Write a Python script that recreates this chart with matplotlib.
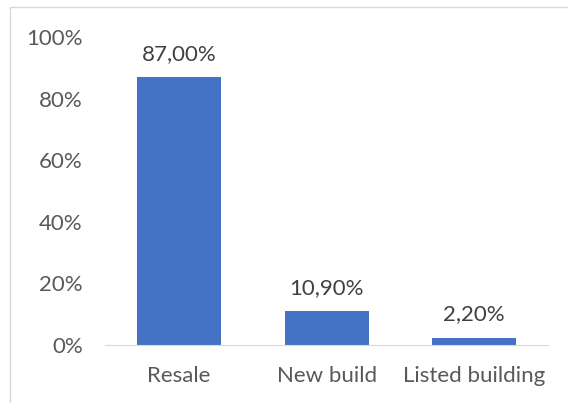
import matplotlib.pyplot as plt
from matplotlib.patches import Rectangle

categories = ['Resale', 'New build', 'Listed building']
values = [87.0, 10.9, 2.2]
labels = ['87,00%', '10,90%', '2,20%']
yticks = [0, 20, 40, 60, 80, 100]

plt.rcParams['font.family'] = ['Lato', 'DejaVu Sans']
text_color = '#595959'

fig = plt.figure(figsize=(5.68, 4.03), dpi=100)
ax = fig.add_axes([0.185, 0.144, 0.78, 0.763])

# chart area border (cropped at right/bottom)
fig.patches.append(Rectangle((10 / 568, -0.1), 1.2, 1 - 7 / 403 + 0.1,
                             transform=fig.transFigure, fill=False,
                             edgecolor='#d9d9d9', linewidth=1))

x = range(len(categories))
ax.bar(x, values, width=0.57, color='#4472C4')
for i, v in enumerate(values):
    ax.text(i, v + 4.5, labels[i], ha='center', va='bottom',
            fontsize=16, color='#404040')

ax.set_xlim(-0.5, 2.5)
ax.set_ylim(0, 100)
ax.set_yticks(yticks)
ax.set_yticklabels([f'{t}%' for t in yticks])
ax.set_xticks(list(x))
ax.set_xticklabels(categories)
ax.tick_params(axis='both', length=0, labelsize=16, colors=text_color)
ax.tick_params(axis='y', pad=16)
ax.tick_params(axis='x', pad=15)

for s in ['top', 'right', 'left']:
    ax.spines[s].set_visible(False)
ax.spines['bottom'].set_color('#d9d9d9')

plt.savefig('out.png', dpi=100)
